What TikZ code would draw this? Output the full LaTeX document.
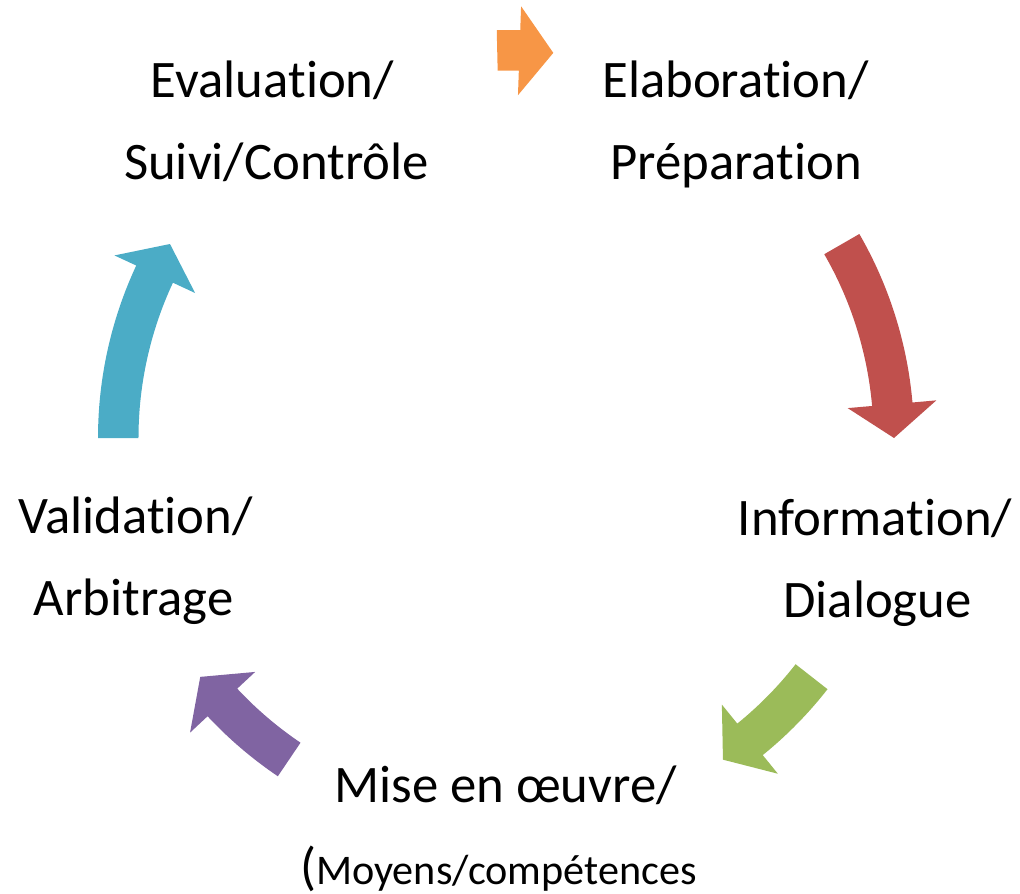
\documentclass[tikz,border=0pt]{standalone}
\usepackage{fontspec}
\setmainfont[Ligatures={CommonOff,ContextualOff,RareOff}]{Carlito}
\definecolor{corange}{HTML}{F79646}
\definecolor{cred}{HTML}{C0504D}
\definecolor{cgreen}{HTML}{9BBB59}
\definecolor{cpurple}{HTML}{8064A2}
\definecolor{cteal}{HTML}{4BACC6}
\newcommand{\cyclearrow}[4]{%
  \fill[#1] (#2:408) arc[start angle=#2, end angle=#3, radius=10.2cm]
    -- (#3:432) -- (#4:388) -- (#3:343) -- (#3:367.5)
    arc[start angle=#3, end angle=#2, radius=9.1875cm] -- cycle;}
\begin{document}
\begin{tikzpicture}[x=0.025cm, y=0.025cm,
  lbl/.style={inner sep=0pt, anchor=base, font=\fontsize{37.5pt}{46pt}\selectfont}]
\useasboundingbox (0,0) rectangle (1020,-894);
\coordinate (C) at (506,-438);
\begin{scope}[shift={(C)}]
  \cyclearrow{corange}{91.3}{88}{83}
  \cyclearrow{cred}{30}{5}{0}
  \cyclearrow{cgreen}{-38}{-51}{-56}
  \cyclearrow{cpurple}{236}{223}{218}
  \cyclearrow{cteal}{180}{155}{150}
\end{scope}
\node[lbl] (eval1) at (272.5,-97) {Evaluation/};
\node[lbl] (eval2) at (276.5,-179) {Suivi/Contrôle};
\node[lbl] (elab1) at (735.5,-97) {Elaboration/};
\node[lbl] (elab2) at (736,-179) {Préparation};
\node[lbl] (info1) at (875,-535) {Information/};
\node[lbl] (info2) at (877.5,-617) {Dialogue};
\node[lbl] (vali1) at (135.5,-533) {Validation/};
\node[lbl] (vali2) at (133.5,-615) {Arbitrage};
\node[lbl] (mise1) at (505.5,-802) {Mise en œuvre/};
\node[lbl, anchor=base west] (mise2) at (300,-884) {(\fontsize{30pt}{36pt}\selectfont Moyens/compétences};
\end{tikzpicture}
\end{document}
